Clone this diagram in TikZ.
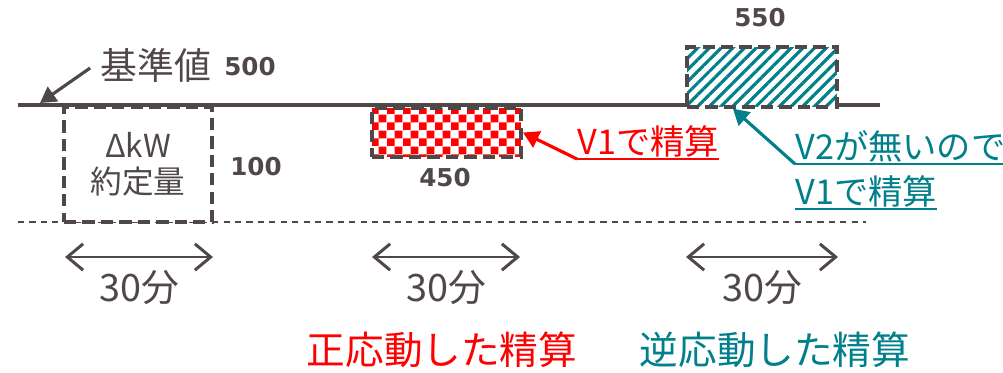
\documentclass[tikz,border=0pt]{standalone}
\usepackage{fontspec}
\setmainfont{Noto Sans CJK JP}
\newfontfamily\numfont{DejaVu Sans}
\usepackage{tikz}
\usetikzlibrary{arrows.meta, positioning, calc, patterns, patterns.meta}
\usepackage{xcolor}
\definecolor{basegray}{RGB}{80,72,72}
\definecolor{negteal}{RGB}{0,128,138}

\pgfdeclarepatternformonly{bigchecker}{\pgfpointorigin}{\pgfqpoint{9.2pt}{9.2pt}}{\pgfqpoint{9.2pt}{9.2pt}}{%
  \pgfpathrectangle{\pgfpointorigin}{\pgfqpoint{4.6pt}{4.6pt}}%
  \pgfpathrectangle{\pgfqpoint{4.6pt}{4.6pt}}{\pgfqpoint{4.6pt}{4.6pt}}%
  \pgfusepath{fill}}

\tikzset{
  blockbox/.style={draw=basegray, line width=2.2pt, dash pattern=on 7pt off 3.5pt,
    inner sep=0pt, preaction={fill=white}},
  numlbl/.style={text=basegray, font=\numfont\bfseries\fontsize{14}{16}\selectfont},
  duration/.style={text=basegray, font=\fontsize{21.5}{24}\selectfont},
  span/.style={basegray, line width=1.7pt,
    {Straight Barb[length=9pt,width=15pt]}-{Straight Barb[length=9pt,width=15pt]}},
  note/.style={font=\fontsize{19.5}{22}\selectfont, inner xsep=0pt, inner ysep=1pt, anchor=south west},
  pointer/.style={line width=1.8pt, -{Triangle[length=9pt,width=10pt]}},
}

\begin{document}
\begin{tikzpicture}[x=0.02cm, y=-0.02cm]
  \useasboundingbox (0,0) rectangle (1003,372);

  % reference levels
  \draw[basegray, line width=2pt] (18,105) -- (880,105);
  \draw[basegray, line width=0.9pt, dash pattern=on 3.5pt off 3pt] (18,222) -- (866,222);

  \node[text=basegray, font=\fontsize{21}{24}\selectfont] (kijun) at (156,65) {基準値};
  \node[numlbl] (v500) at (250,67) {500};
  \coordinate (base500) at (40,103);
  \draw[pointer, basegray, shorten <=3pt] (kijun.west) -- (base500);

  % blocks
  \node[blockbox, minimum width=2.96cm, minimum height=2.3cm, text=basegray, align=center,
    font=\fontsize{18}{20.5}\selectfont] (kw) at (138,164.5) {ΔkW\\約定量};
  \node[numlbl] (v100) at (256,167) {100};

  \node[blockbox, minimum width=2.98cm, minimum height=0.98cm,
    pattern=bigchecker, pattern color=red] (posbox) at (446.5,132.5) {};
  \node[numlbl] (v450) at (445,178) {450};

  \node[blockbox, minimum width=3cm, minimum height=1.2cm,
    pattern={Lines[angle=45, distance=4.7pt, line width=1.8pt]}, pattern color=negteal] (negbox) at (762,77) {};
  \node[numlbl] (v550) at (760,18) {550};

  % notes
  \node[note, text=red] (posnote) at (577,159) {V1で精算};
  \draw[red, line width=0.8pt] (posnote.south west) -- (posnote.south east);
  \draw[pointer, red] (posnote.south west) -- (posbox.east);

  \node[note, text=negteal] (negnote) at (795,164) {V2が無いので};
  \node[note, text=negteal] (negnote2) at (795,209) {V1で精算};
  \draw[negteal, line width=0.8pt] (negnote.south west) -- (negnote.south east);
  \draw[negteal, line width=0.8pt] (negnote2.south west) -- (negnote2.south east);
  \coordinate (negtip) at ($(negbox.south west)!0.31!(negbox.south east)$);
  \draw[pointer, negteal] (negnote.south west) -- (negtip);

  % durations
  \foreach \n/\xa/\xb in {1/65/213, 2/372/520, 3/686/838} {
    \coordinate (l\n) at (\xa,257);
    \coordinate (r\n) at (\xb,257);
    \draw[span] (l\n) -- (r\n);
    \node[duration] (d\n) at ({(\xa+\xb)/2},288) {30分};
  }

  \node[text=red, font=\fontsize{22}{24}\selectfont] (posres) at (442,350) {正応動した精算};
  \node[text=negteal, font=\fontsize{22}{24}\selectfont] (negres) at (775,350) {逆応動した精算};
\end{tikzpicture}
\end{document}
